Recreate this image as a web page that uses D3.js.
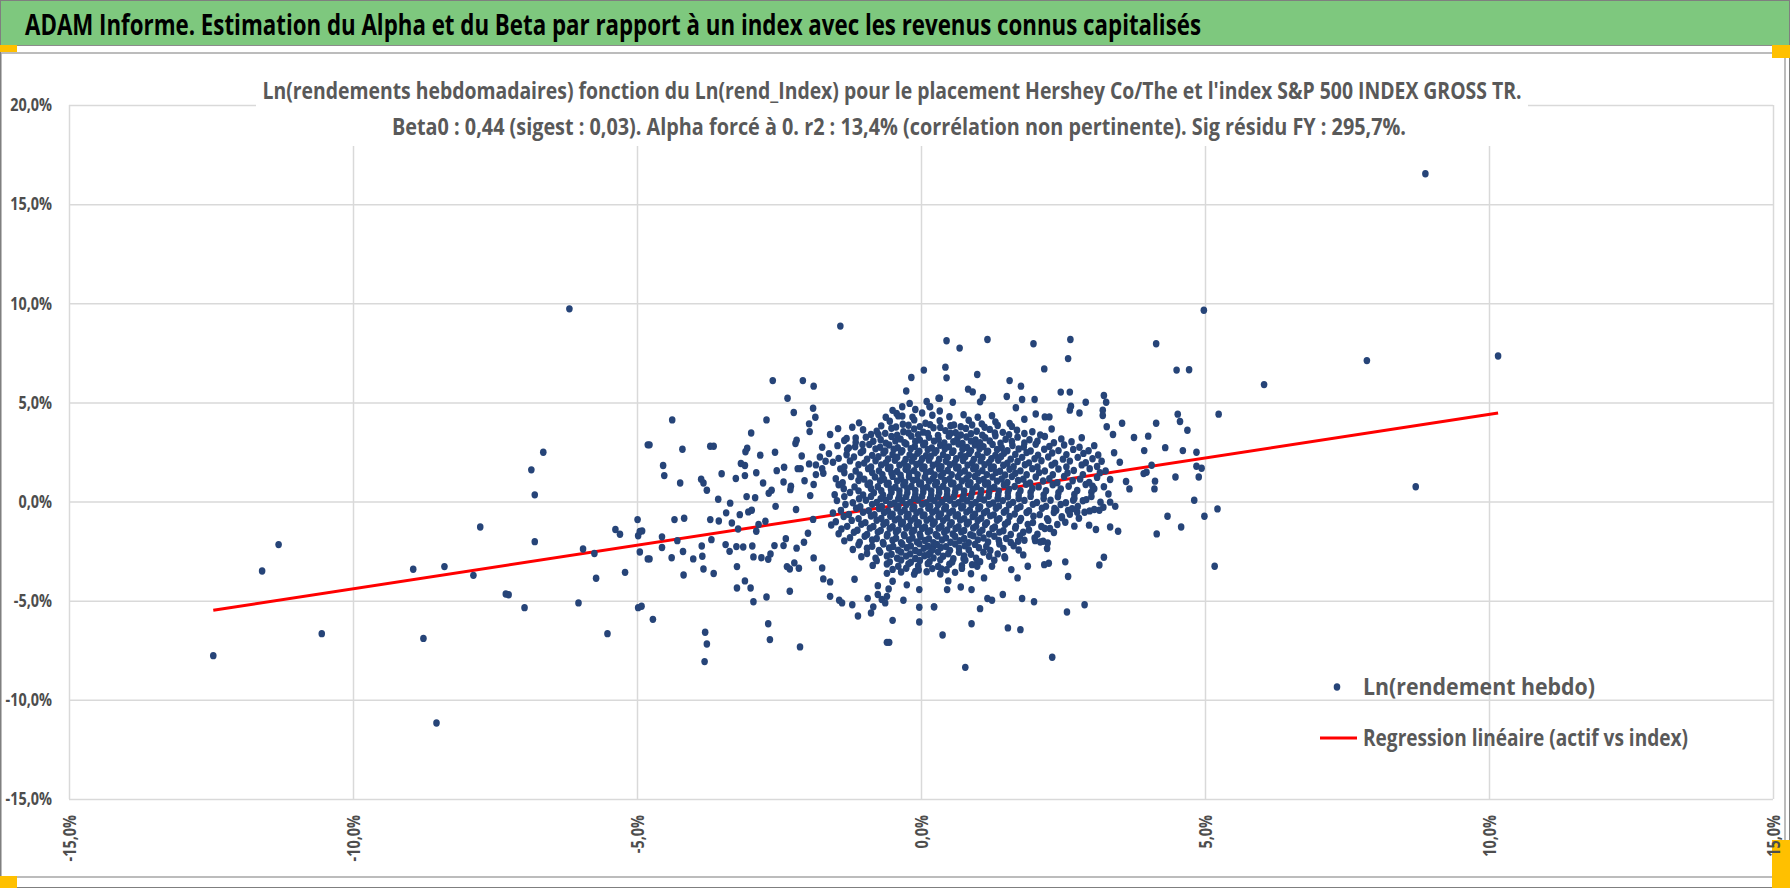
<!DOCTYPE html>
<html>
<head>
<meta charset="utf-8">
<script src="https://cdn.jsdelivr.net/npm/d3@7"></script>
<style>
  html, body { margin: 0; padding: 0; background: #ffffff; }
  svg { display: block; }
</style>
</head>
<body>
<svg id="chart" width="1790" height="888"></svg>
<script>
// Ln(weekly returns) of the asset vs Ln(weekly returns) of the index, in %
// [index %, asset %] pairs

const titleText = 'ADAM Informe. Estimation du Alpha et du Beta par rapport à un index avec les revenus connus capitalisés';
const subtitleLines = [
    "Ln(rendements hebdomadaires) fonction du Ln(rend_Index) pour le placement Hershey Co/The et l'index S&P 500 INDEX GROSS TR.",
    'Beta0 : 0,44 (sigest : 0,03).  Alpha forcé à 0. r2 : 13,4% (corrélation non pertinente). Sig résidu FY : 295,7%.'
];
const legendLabels = ['Ln(rendement hebdo)', 'Regression linéaire (actif vs index)'];

const beta0 = 0.44;
const xTicks = [-15, -10, -5, 0, 5, 10, 15];
const yTicks = [-15, -10, -5, 0, 5, 10, 15, 20];

const farPoints = [
    [-12.46, -7.77], [-11.6, -3.5], [-11.31, -2.17], [-10.55, -6.66], [-8.94, -3.41], [-8.76, -6.9],
    [-8.53, -11.17], [-8.39, -3.28], [-7.88, -3.72], [-7.76, -1.28], [-7.31, -4.66], [-7.26, -4.7],
    [-6.98, -5.35], [-6.86, 1.6], [-6.8, 0.34], [-6.8, -2.02], [-6.65, 2.49], [-6.19, 9.72],
    [-6.03, -5.11], [-5.95, -2.39], [-5.75, -2.62], [-5.72, -3.87], [-5.52, -6.66], [-5.38, -1.41],
    [-5.3, -1.65], [-5.21, -3.57], [-4.99, -0.91], [-4.91, -1.48], [-4.98, -1.72], [-4.95, -2.54],
    [-4.98, -5.35], [-4.81, 2.86], [-4.81, -2.89],
    [6.04, 5.9], [7.85, 7.11], [8.71, 0.75], [8.88, 16.53], [10.16, 7.34]
];

const leftCluster = [
    [-1.42, 8.85], [-2.61, 6.1], [-2.08, 6.1], [-1.89, 5.82], [-2.35, 5.21], [-1.9, 4.71], [-2.24, 4.49],
    [-1.86, 4.25], [-4.38, 4.12], [-2.72, 4.12], [-1.97, 3.92], [-1.96, 3.53], [-2.99, 3.46], [-4.78, 2.86],
    [-4.2, 2.64], [-3.71, 2.79], [-3.65, 2.79], [-2.21, 2.93], [-2.19, 3.09], [-3.06, 2.69], [-3.09, 2.51],
    [-2.57, 2.49], [-2.83, 2.34], [-4.54, 1.82], [-4.52, 1.31], [-4.24, 0.94], [-3.87, 1.13], [-3.83, 0.94],
    [-3.77, 0.57], [-3.51, 1.4], [-3.26, 1.16], [-3.17, 1.92], [-3.1, 1.82], [-3.1, 1.31], [-2.9, 1.45],
    [-2.78, 0.94], [-2.54, 1.56], [-2.41, 1.73], [-2.42, 0.99], [-2.17, 1.66], [-2.12, 1.66], [-2.29, 0.77],
    [-1.97, 1.9], [-1.89, 0.86], [-3.57, 0.12], [-3.36, -0.08], [-3.07, 0.25], [-2.92, 0.19], [-2.68, 0.42],
    [-2.63, 0.57], [-2.56, -0.24], [-4.34, -0.91], [-4.17, -0.84], [-3.71, -0.91], [-3.56, -0.98],
    [-3.43, -0.57], [-3.33, -1.08], [-3.19, -0.66], [-3.22, -1.38], [-3.04, -0.52], [-2.98, -0.44],
    [-2.86, -1.16], [-2.9, -1.5], [-2.74, -0.99], [-4.56, -1.78], [-4.56, -2.32], [-4.39, -2.83],
    [-4.29, -1.97], [-4.19, -2.52], [-4.01, -2.89], [-3.86, -2.24], [-3.85, -2.76], [-3.83, -3.4],
    [-3.69, -1.92], [-3.65, -3.63], [-4.18, -3.7], [-4.78, -2.89], [-4.95, -1.51], [-4.92, -5.28],
    [-4.72, -5.94], [-3.44, -2.17], [-3.37, -2.51], [-3.25, -2.27], [-3.13, -2.29], [-2.97, -2.24],
    [-2.95, -2.79], [-2.81, -2.83], [-2.69, -2.91], [-2.65, -2.64], [-2.58, -2.22], [-3.24, -3.28],
    [-3.24, -4.36], [-3.1, -4.0], [-3.0, -4.36], [-2.95, -5.05], [-2.72, -4.81], [-2.69, -6.16],
    [-2.66, -6.96], [-3.8, -6.59], [-3.77, -7.18], [-3.81, -8.07], [-2.36, -3.28], [-2.31, -3.4],
    [-2.23, -3.09], [-2.15, -3.36], [-2.31, -4.52], [-2.13, -7.33], [-2.42, -2.22], [-2.38, -1.87],
    [-2.19, -2.35], [-2.06, -2.05], [-1.99, -1.6], [-1.89, -2.84], [-1.74, -3.35], [-1.72, -3.9],
    [-1.6, -4.05], [-1.6, -4.78], [-1.44, -4.98], [-1.39, -5.11], [-1.21, -5.2], [-1.11, -5.77],
    [-1.17, -3.92], [-0.94, -4.88], [-0.88, -5.62], [-0.84, -5.31], [-0.76, -4.24], [-0.76, -4.69],
    [-0.69, -4.94], [-0.63, -5.11], [-0.6, -4.78], [-0.57, -4.41], [-0.5, -4.02], [-0.5, -5.99],
    [-0.6, -7.1], [-0.56, -7.1], [-0.31, -4.98], [-0.25, -4.2], [-0.1, -3.53], [-0.03, -4.44],
    [-0.03, -5.33], [-0.03, -6.07], [0.23, -5.31], [-1.74, 2.74], [-1.78, 2.25], [-1.68, 2.03],
    [-1.74, 1.66], [-1.72, 1.43], [-1.85, 1.36], [-1.6, 3.38], [-1.46, 3.68], [-1.21, 3.75], [-1.09, 3.97],
    [-1.35, 3.08], [-1.27, 2.71], [-1.15, 3.21], [-1.03, 2.88], [-0.75, 3.38], [-0.62, 4.25],
    [-0.26, 5.58], [-0.17, 6.26], [0.05, 6.63], [-0.33, 4.78], [-0.33, 4.31], [-0.43, 4.44],
    [-0.1, 4.64], [0.02, 4.47], [0.15, 4.79], [0.31, 5.21], [-0.2, 4.95], [0.1, 5.05], [-0.5, 4.6],
    [-2.05, 1.05], [-1.95, 0.3], [-2.2, -0.4], [-1.9, -0.9], [-2.3, 0.6], [-1.85, 1.85], [-2.1, 2.3]
];

const rightCluster = [
    [0.45, 8.11], [0.68, 7.74], [1.17, 8.17], [1.98, 7.96], [2.63, 8.17], [2.59, 7.21], [2.17, 6.69],
    [4.14, 7.96], [4.5, 6.63], [4.98, 9.65], [4.72, 6.65], [0.43, 6.78], [0.45, 6.24], [0.99, 6.41],
    [1.56, 6.1], [0.83, 5.67], [0.91, 5.53], [1.76, 5.82], [1.51, 5.3], [1.09, 5.25], [1.04, 5.03],
    [1.78, 5.15], [2.0, 5.15], [1.67, 4.73], [0.33, 5.21], [0.56, 5.01], [0.16, 4.78], [0.33, 4.57],
    [2.46, 5.52], [2.62, 5.52], [3.22, 5.35], [3.26, 5.01], [2.9, 5.01], [2.64, 4.81], [2.62, 4.61],
    [2.79, 4.47], [3.2, 4.61], [3.2, 4.34], [2.02, 4.42], [2.18, 4.27], [2.26, 4.27], [3.54, 3.95],
    [4.14, 3.95], [4.52, 4.41], [4.56, 4.04], [4.69, 3.6], [5.24, 4.41], [3.75, 3.23], [4.0, 3.3],
    [4.3, 2.72], [4.61, 2.57], [4.85, 2.49], [3.93, 2.57], [4.06, 1.83], [3.92, 1.41], [3.97, 1.48],
    [4.85, 1.78], [4.94, 1.68], [4.89, 1.24], [4.48, 1.24], [4.12, 1.03], [4.11, 0.64], [3.61, 1.01],
    [3.67, 0.64], [3.5, 1.98], [3.4, 2.46], [3.38, 3.38], [3.27, 3.77], [3.33, 1.11], [3.42, -0.24],
    [3.33, -0.03], [3.47, -1.5], [3.33, -1.28], [3.21, -0.29], [3.14, -0.44], [3.05, -0.4], [3.08, -1.41],
    [2.96, -1.19], [2.88, -0.54], [2.75, -0.54], [2.59, -0.45], [2.48, -0.82], [2.68, 0.07], [2.91, 0.1],
    [3.02, 0.77], [4.34, -0.74], [4.81, 0.07], [5.22, -0.37], [4.99, -0.74], [4.58, -1.28], [4.15, -1.63],
    [5.17, -3.26], [3.22, -2.81], [3.14, -3.2], [2.54, -3.04], [2.59, -3.78], [2.88, -5.2], [2.57, -5.57],
    [2.31, -7.85], [2.22, -2.37], [2.23, -2.09], [2.15, -2.0], [2.01, -1.97], [2.17, -3.18], [2.25, -3.11],
    [2.27, -1.36], [2.35, -0.35], [1.88, -3.26], [1.8, -2.69], [1.7, -3.85], [1.78, -4.89], [1.99, -5.05],
    [1.44, -4.69], [1.25, -4.98], [1.17, -4.89], [1.04, -5.4], [0.89, -6.16], [1.53, -6.37], [1.75, -6.46],
    [0.38, -6.73], [0.78, -8.36], [0.23, -5.31], [0.46, -4.44], [0.48, -4.0], [0.7, -4.31], [0.89, -4.44],
    [1.11, -3.85], [0.36, -3.4], [0.9, -3.18], [0.99, -3.26], [0.75, -2.88], [1.29, -2.96], [1.47, -2.78],
    [1.59, -3.43], [1.71, -2.0], [0.16, -2.59], [0.22, -2.25]
];

const corePoints = [
    [-0.55, 4.05], [-0.32, 3.9], [-0.12, 4.12], [0.08, 3.95], [0.33, 4.08], [0.58, 3.86], [0.84, 4.1],
    [1.07, 3.92], [1.31, 4.02], [1.56, 3.94], [1.82, 4.15],
    [-1.02, 3.62], [-0.78, 3.55], [-0.52, 3.7], [-0.31, 3.52], [-0.12, 3.66], [0.04, 3.5], [0.22, 3.72],
    [0.43, 3.58], [0.61, 3.47], [0.79, 3.69], [0.98, 3.55], [1.21, 3.64], [1.44, 3.49], [1.69, 3.6],
    [1.96, 3.52], [2.3, 3.66],
    [-1.31, 3.18], [-0.97, 3.25], [-0.71, 3.12], [-0.52, 3.28], [-0.36, 3.15], [-0.17, 3.3], [-0.02, 3.1],
    [0.14, 3.24], [0.31, 3.14], [0.49, 3.3], [0.64, 3.16], [0.8, 3.26], [0.96, 3.11], [1.13, 3.22],
    [1.31, 3.32], [1.49, 3.14], [1.7, 3.25], [1.91, 3.12], [2.18, 3.28], [2.47, 3.16], [2.83, 3.22],
    [-1.47, 2.82], [-1.16, 2.76], [-0.91, 2.88], [-0.72, 2.74], [-0.56, 2.85], [-0.41, 2.72], [-0.26, 2.9],
    [-0.11, 2.78], [0.04, 2.86], [0.19, 2.71], [0.34, 2.84], [0.49, 2.76], [0.66, 2.9], [0.81, 2.73],
    [0.95, 2.85], [1.1, 2.77], [1.26, 2.88], [1.42, 2.72], [1.61, 2.83], [1.81, 2.75], [2.02, 2.89],
    [2.26, 2.78], [2.52, 2.85], [2.79, 2.74], [3.05, 2.82],
    [-1.62, 2.42], [-1.31, 2.36], [-1.06, 2.47], [-0.86, 2.33], [-0.66, 2.45], [-0.5, 2.38], [-0.35, 2.5],
    [-0.2, 2.35], [-0.06, 2.44], [0.09, 2.31], [0.24, 2.46], [0.39, 2.37], [0.55, 2.48], [0.7, 2.34],
    [0.85, 2.43], [1.0, 2.36], [1.16, 2.49], [1.31, 2.33], [1.46, 2.44], [1.66, 2.38], [1.86, 2.47],
    [2.06, 2.34], [2.31, 2.45], [2.56, 2.37], [2.86, 2.43], [3.12, 2.35],
    [-1.55, 1.98], [-1.25, 2.05], [-1.0, 1.94], [-0.8, 2.06], [-0.62, 1.95], [-0.46, 2.08], [-0.3, 1.93],
    [-0.16, 2.04], [-0.01, 1.96], [0.14, 2.09], [0.29, 1.92], [0.44, 2.03], [0.59, 1.95], [0.74, 2.07],
    [0.9, 1.94], [1.05, 2.05], [1.2, 1.97], [1.36, 2.08], [1.52, 1.93], [1.7, 2.02], [1.9, 1.95],
    [2.12, 2.06], [2.36, 1.94], [2.62, 2.04], [2.9, 1.96], [3.18, 2.03],
    [-1.42, 1.65], [-1.15, 1.54], [-0.93, 1.66], [-0.74, 1.55], [-0.58, 1.67], [-0.42, 1.52],
    [-0.27, 1.63], [-0.12, 1.56], [0.02, 1.68], [0.17, 1.53], [0.32, 1.64], [0.47, 1.57], [0.62, 1.69],
    [0.77, 1.54], [0.92, 1.65], [1.08, 1.56], [1.23, 1.67], [1.39, 1.53], [1.56, 1.63], [1.75, 1.55],
    [1.96, 1.66], [2.18, 1.54], [2.42, 1.64], [2.69, 1.57], [2.97, 1.66], [3.25, 1.55],
    [-1.5, 1.15], [-1.23, 1.26], [-1.0, 1.13], [-0.81, 1.24], [-0.65, 1.12], [-0.5, 1.27],
    [-0.35, 1.14], [-0.21, 1.25], [-0.07, 1.11], [0.07, 1.23], [0.21, 1.16], [0.35, 1.28], [0.5, 1.13],
    [0.65, 1.25], [0.8, 1.15], [0.95, 1.27], [1.1, 1.12], [1.26, 1.24], [1.42, 1.14], [1.6, 1.26],
    [1.8, 1.13], [2.02, 1.24], [2.26, 1.15], [2.52, 1.27], [2.8, 1.13], [3.1, 1.22],
    [-1.45, 0.85], [-1.17, 0.74], [-0.94, 0.86], [-0.76, 0.75], [-0.6, 0.87], [-0.45, 0.72],
    [-0.31, 0.84], [-0.17, 0.76], [-0.03, 0.88], [0.11, 0.73], [0.25, 0.85], [0.39, 0.77], [0.53, 0.89],
    [0.68, 0.74], [0.83, 0.86], [0.98, 0.75], [1.13, 0.87], [1.29, 0.73], [1.46, 0.84], [1.65, 0.76],
    [1.85, 0.87], [2.07, 0.74], [2.32, 0.85], [2.6, 0.77], [2.9, 0.86], [3.22, 0.75],
    [-1.52, 0.35], [-1.25, 0.46], [-1.02, 0.33], [-0.83, 0.45], [-0.67, 0.34], [-0.52, 0.47],
    [-0.38, 0.32], [-0.24, 0.44], [-0.1, 0.36], [0.04, 0.48], [0.18, 0.33], [0.32, 0.45], [0.46, 0.35],
    [0.6, 0.47], [0.75, 0.32], [0.9, 0.44], [1.05, 0.36], [1.2, 0.48], [1.36, 0.33], [1.53, 0.45],
    [1.72, 0.35], [1.93, 0.46], [2.16, 0.34], [2.42, 0.45], [2.7, 0.36], [3.0, 0.47], [3.3, 0.38],
    [-1.48, 0.05], [-1.2, -0.06], [-0.97, 0.07], [-0.78, -0.05], [-0.62, 0.06], [-0.47, -0.08],
    [-0.33, 0.04], [-0.19, -0.04], [-0.05, 0.08], [0.09, -0.07], [0.23, 0.05], [0.37, -0.03], [0.51, 0.07],
    [0.66, -0.06], [0.81, 0.04], [0.96, -0.05], [1.11, 0.08], [1.27, -0.07], [1.44, 0.05], [1.62, -0.04],
    [1.82, 0.06], [2.04, -0.05], [2.28, 0.07], [2.55, -0.06], [2.85, 0.04], [3.16, -0.03],
    [-1.41, -0.45], [-1.14, -0.34], [-0.92, -0.46], [-0.74, -0.35], [-0.58, -0.47], [-0.43, -0.33],
    [-0.29, -0.44], [-0.15, -0.36], [-0.01, -0.48], [0.13, -0.34], [0.27, -0.45], [0.41, -0.37], [0.56, -0.47],
    [0.71, -0.33], [0.86, -0.44], [1.01, -0.36], [1.16, -0.48], [1.32, -0.34], [1.5, -0.45], [1.69, -0.35],
    [1.9, -0.46], [2.13, -0.34], [2.38, -0.44], [2.66, -0.36], [2.97, -0.47],
    [-1.36, -0.75], [-1.1, -0.86], [-0.88, -0.73], [-0.7, -0.85], [-0.54, -0.74], [-0.39, -0.87],
    [-0.25, -0.76], [-0.11, -0.84], [0.03, -0.72], [0.17, -0.86], [0.31, -0.75], [0.46, -0.83], [0.61, -0.73],
    [0.76, -0.87], [0.91, -0.76], [1.06, -0.84], [1.22, -0.72], [1.38, -0.86], [1.56, -0.75], [1.76, -0.85],
    [1.98, -0.74], [2.22, -0.86], [2.48, -0.76], [2.78, -0.84],
    [-1.58, -1.18], [-1.3, -1.25], [-1.05, -1.14], [-0.84, -1.26], [-0.66, -1.15], [-0.5, -1.27], [-0.35, -1.13],
    [-0.21, -1.24], [-0.07, -1.16], [0.07, -1.28], [0.21, -1.14], [0.36, -1.25], [0.51, -1.17], [0.66, -1.27],
    [0.81, -1.13], [0.97, -1.24], [1.13, -1.16], [1.3, -1.28], [1.48, -1.14], [1.67, -1.25], [1.88, -1.15],
    [2.12, -1.26], [2.4, -1.16], [2.7, -1.24],
    [-1.45, -1.62], [-1.18, -1.55], [-0.95, -1.66], [-0.76, -1.54], [-0.59, -1.65], [-0.44, -1.53], [-0.3, -1.67],
    [-0.16, -1.56], [-0.02, -1.64], [0.12, -1.52], [0.26, -1.66], [0.41, -1.55], [0.56, -1.63], [0.71, -1.53],
    [0.87, -1.67], [1.03, -1.56], [1.2, -1.64], [1.38, -1.54], [1.58, -1.66], [1.8, -1.55], [2.05, -1.65],
    [2.34, -1.56],
    [-1.35, -1.98], [-1.08, -2.05], [-0.86, -1.94], [-0.67, -2.06], [-0.5, -1.95], [-0.35, -2.07], [-0.21, -1.93],
    [-0.07, -2.04], [0.07, -1.96], [0.22, -2.08], [0.37, -1.94], [0.52, -2.05], [0.68, -1.97], [0.84, -2.07],
    [1.0, -1.93], [1.18, -2.04], [1.37, -1.96], [1.58, -2.06], [1.82, -1.95], [2.1, -2.04],
    [-1.2, -2.42], [-0.95, -2.35], [-0.74, -2.46], [-0.56, -2.34], [-0.4, -2.45], [-0.25, -2.33], [-0.1, -2.47],
    [0.05, -2.36], [0.2, -2.44], [0.35, -2.32], [0.51, -2.46], [0.67, -2.35], [0.84, -2.43], [1.02, -2.33],
    [1.22, -2.47], [1.45, -2.36], [1.72, -2.44],
    [-1.05, -2.78], [-0.8, -2.85], [-0.6, -2.74], [-0.42, -2.86], [-0.26, -2.75], [-0.1, -2.87], [0.06, -2.73],
    [0.22, -2.84], [0.39, -2.76], [0.57, -2.88], [0.76, -2.74], [0.97, -2.85], [1.2, -2.76], [1.48, -2.84],
    [-0.85, -3.22], [-0.6, -3.15], [-0.4, -3.26], [-0.22, -3.14], [-0.05, -3.25], [0.12, -3.13], [0.3, -3.27],
    [0.5, -3.16], [0.72, -3.24], [0.98, -3.14], [1.25, -3.26],
    [-0.6, -3.62], [-0.35, -3.55], [-0.12, -3.66], [0.1, -3.54], [0.34, -3.65], [0.6, -3.57], [0.88, -3.64]
];

// second layer of the dense core, between the rows above
const coreFill = [
    [-0.4, 4.32], [-0.15, 4.26], [0.2, 4.35], [0.5, 4.28], [0.75, 4.38], [1.0, 4.25], [1.25, 4.33],
    [-0.7, 3.82], [-0.44, 3.76], [-0.22, 3.85], [-0.02, 3.78], [0.16, 3.88], [0.34, 3.74], [0.52, 3.83],
    [0.7, 3.77], [0.9, 3.86], [1.12, 3.75], [1.35, 3.84], [1.6, 3.79],
    [-0.88, 3.38], [-0.63, 3.44], [-0.42, 3.35], [-0.22, 3.46], [-0.05, 3.37], [0.12, 3.43], [0.3, 3.34],
    [0.52, 3.45], [0.7, 3.36], [0.88, 3.42], [1.08, 3.35], [1.3, 3.46], [1.55, 3.37], [1.82, 3.43], [2.1, 3.36],
    [-1.15, 2.98], [-0.84, 3.04], [-0.62, 2.95], [-0.45, 3.06], [-0.29, 2.97], [-0.1, 3.03], [0.07, 2.94],
    [0.23, 3.05], [0.41, 2.96], [0.57, 3.02], [0.73, 2.93], [0.88, 3.05], [1.04, 2.97], [1.21, 3.06],
    [1.4, 2.95], [1.6, 3.03], [1.82, 2.96], [2.05, 3.04], [2.34, 2.97], [2.65, 3.02],
    [-1.3, 2.62], [-1.02, 2.56], [-0.8, 2.66], [-0.63, 2.55], [-0.48, 2.64], [-0.33, 2.57], [-0.18, 2.67],
    [-0.03, 2.54], [0.12, 2.63], [0.27, 2.56], [0.42, 2.66], [0.57, 2.55], [0.73, 2.64], [0.88, 2.57],
    [1.03, 2.67], [1.18, 2.54], [1.34, 2.63], [1.52, 2.56], [1.72, 2.65], [1.93, 2.55], [2.17, 2.64],
    [2.42, 2.57], [2.68, 2.63], [2.95, 2.56],
    [-1.45, 2.18], [-1.18, 2.25], [-0.95, 2.14], [-0.75, 2.26], [-0.58, 2.15], [-0.42, 2.24], [-0.27, 2.13],
    [-0.12, 2.25], [0.02, 2.16], [0.17, 2.27], [0.32, 2.14], [0.47, 2.23], [0.62, 2.16], [0.78, 2.26],
    [0.93, 2.13], [1.08, 2.24], [1.24, 2.16], [1.41, 2.27], [1.58, 2.14], [1.78, 2.23], [2.0, 2.16],
    [2.24, 2.25], [2.5, 2.14], [2.76, 2.23], [3.02, 2.16],
    [-1.35, 1.75], [-1.1, 1.86], [-0.88, 1.74], [-0.7, 1.85], [-0.54, 1.73], [-0.38, 1.84],
    [-0.23, 1.76], [-0.08, 1.87], [0.06, 1.74], [0.21, 1.83], [0.36, 1.76], [0.51, 1.86], [0.66, 1.73],
    [0.82, 1.84], [0.97, 1.75], [1.12, 1.86], [1.28, 1.74], [1.45, 1.83], [1.63, 1.76], [1.83, 1.86],
    [2.05, 1.74], [2.3, 1.84], [2.56, 1.75], [2.83, 1.85], [3.1, 1.77],
    [-1.35, 1.45], [-1.08, 1.34], [-0.86, 1.46], [-0.68, 1.35], [-0.52, 1.44], [-0.36, 1.33],
    [-0.21, 1.45], [-0.06, 1.36], [0.09, 1.47], [0.24, 1.34], [0.39, 1.43], [0.54, 1.36], [0.69, 1.46],
    [0.84, 1.33], [1.0, 1.44], [1.16, 1.36], [1.32, 1.47], [1.48, 1.34], [1.66, 1.43], [1.86, 1.35],
    [2.08, 1.46], [2.32, 1.35], [2.58, 1.44], [2.85, 1.36], [3.15, 1.45],
    [-1.38, 0.95], [-1.1, 1.06], [-0.9, 0.94], [-0.72, 1.05], [-0.57, 0.93], [-0.42, 1.04],
    [-0.28, 0.96], [-0.14, 1.07], [0.0, 0.94], [0.14, 1.03], [0.28, 0.96], [0.42, 1.06], [0.57, 0.93],
    [0.72, 1.04], [0.87, 0.95], [1.02, 1.06], [1.18, 0.94], [1.34, 1.03], [1.52, 0.96], [1.71, 1.06],
    [1.92, 0.94], [2.15, 1.04], [2.4, 0.95], [2.67, 1.05], [2.96, 0.97],
    [-1.36, 0.65], [-1.1, 0.54], [-0.88, 0.66], [-0.7, 0.55], [-0.53, 0.64], [-0.38, 0.53],
    [-0.24, 0.65], [-0.1, 0.56], [0.04, 0.67], [0.18, 0.54], [0.32, 0.63], [0.46, 0.56], [0.61, 0.66],
    [0.76, 0.53], [0.91, 0.64], [1.06, 0.56], [1.21, 0.67], [1.37, 0.54], [1.55, 0.63], [1.75, 0.55],
    [1.96, 0.66], [2.2, 0.55], [2.46, 0.64], [2.75, 0.56], [3.05, 0.65],
    [-1.35, 0.25], [-1.09, 0.14], [-0.88, 0.26], [-0.71, 0.15], [-0.55, 0.24], [-0.4, 0.13],
    [-0.26, 0.25], [-0.12, 0.16], [0.02, 0.27], [0.16, 0.14], [0.3, 0.23], [0.44, 0.16], [0.58, 0.26],
    [0.73, 0.13], [0.88, 0.24], [1.03, 0.16], [1.19, 0.27], [1.35, 0.14], [1.53, 0.23], [1.72, 0.15],
    [1.93, 0.26], [2.16, 0.15], [2.41, 0.24], [2.7, 0.16], [3.0, 0.25],
    [-1.33, -0.15], [-1.07, -0.26], [-0.86, -0.14], [-0.69, -0.25], [-0.54, -0.13],
    [-0.4, -0.24], [-0.26, -0.16], [-0.12, -0.27], [0.02, -0.14], [0.16, -0.23], [0.3, -0.16], [0.44, -0.26],
    [0.59, -0.13], [0.74, -0.24], [0.89, -0.15], [1.04, -0.26], [1.2, -0.14], [1.37, -0.23], [1.55, -0.16],
    [1.75, -0.26], [1.97, -0.14], [2.2, -0.24], [2.46, -0.15], [2.76, -0.25],
    [-1.55, -0.58], [-1.27, -0.65], [-1.02, -0.54], [-0.82, -0.66], [-0.65, -0.55], [-0.5, -0.64],
    [-0.36, -0.53], [-0.22, -0.65], [-0.08, -0.56], [0.06, -0.67], [0.2, -0.54], [0.35, -0.63], [0.5, -0.56],
    [0.65, -0.66], [0.8, -0.53], [0.95, -0.64], [1.11, -0.56], [1.28, -0.67], [1.46, -0.54], [1.65, -0.63],
    [1.86, -0.55], [2.09, -0.66], [2.34, -0.55], [2.62, -0.64],
    [-1.5, -1.02], [-1.22, -0.95], [-0.98, -1.06], [-0.78, -0.94], [-0.61, -1.05], [-0.46, -0.93],
    [-0.32, -1.04], [-0.18, -0.96], [-0.04, -1.07], [0.1, -0.94], [0.24, -1.03], [0.39, -0.96], [0.54, -1.06],
    [0.69, -0.93], [0.84, -1.04], [1.0, -0.95], [1.16, -1.06], [1.34, -0.94], [1.53, -1.03], [1.74, -0.96],
    [1.97, -1.06], [2.24, -0.95], [2.54, -1.04],
    [-1.4, -1.38], [-1.12, -1.45], [-0.9, -1.34], [-0.71, -1.46], [-0.55, -1.35], [-0.4, -1.44],
    [-0.26, -1.33], [-0.12, -1.45], [0.02, -1.36], [0.16, -1.47], [0.31, -1.34], [0.46, -1.43], [0.61, -1.36],
    [0.76, -1.46], [0.92, -1.33], [1.08, -1.44], [1.26, -1.36], [1.45, -1.47], [1.66, -1.34], [1.9, -1.43],
    [2.18, -1.36],
    [-1.25, -1.82], [-0.99, -1.75], [-0.78, -1.86], [-0.6, -1.74], [-0.44, -1.85], [-0.29, -1.73],
    [-0.15, -1.84], [-0.01, -1.76], [0.14, -1.87], [0.29, -1.74], [0.44, -1.83], [0.6, -1.76], [0.76, -1.86],
    [0.92, -1.73], [1.1, -1.84], [1.29, -1.75], [1.5, -1.86], [1.74, -1.74], [2.0, -1.84],
    [-1.1, -2.18], [-0.86, -2.25], [-0.66, -2.14], [-0.49, -2.26], [-0.33, -2.15], [-0.18, -2.24],
    [-0.03, -2.13], [0.12, -2.25], [0.28, -2.16], [0.44, -2.27], [0.6, -2.14], [0.77, -2.23], [0.95, -2.16],
    [1.15, -2.26], [1.38, -2.14], [1.63, -2.23],
    [-0.95, -2.62], [-0.72, -2.56], [-0.52, -2.66], [-0.35, -2.55], [-0.19, -2.64], [-0.03, -2.57],
    [0.13, -2.67], [0.3, -2.54], [0.48, -2.63], [0.67, -2.56], [0.88, -2.66], [1.1, -2.55], [1.35, -2.64],
    [-0.78, -2.98], [-0.55, -3.04], [-0.35, -2.95], [-0.18, -3.06], [-0.02, -2.97], [0.15, -3.03],
    [0.34, -2.94], [0.55, -3.05], [0.78, -2.96], [1.04, -3.03],
    [-0.5, -3.42], [-0.26, -3.36], [-0.04, -3.45], [0.2, -3.38], [0.45, -3.44], [0.72, -3.37]
];

const points = farPoints.concat(leftCluster, rightCluster, corePoints, coreFill);

const svg = d3.select('#chart');
const W = 1790, H = 888;

const plot = { left: 69, right: 1773, top: 105, bottom: 799 };

const x = d3.scaleLinear().domain([-15, 15]).range([plot.left, plot.right]);
const y = d3.scaleLinear().domain([-15, 20]).range([plot.bottom, plot.top]);

const frLocale = d3.formatLocale({ decimal: ',', thousands: ' ', grouping: [3], currency: ['', ' €'], minus: '-' });
const pct = v => frLocale.format('.1f')(v) + '%';

const labelFont = "'Open Sans', 'Liberation Sans', sans-serif";

// Background and frames
svg.append('rect').attr('width', W).attr('height', H).attr('fill', '#ffffff');

svg.append('rect')
    .attr('x', 0.5).attr('y', 0.5).attr('width', W - 1).attr('height', 45)
    .attr('fill', '#7ec87e').attr('stroke', '#8c8c8c');

svg.append('rect')
    .attr('x', 1).attr('y', 53).attr('width', 1784).attr('height', 824)
    .attr('fill', 'none').attr('stroke', '#a6a6a6').attr('stroke-width', 1.5);

svg.append('rect')
    .attr('x', 0.5).attr('y', 0.5).attr('width', W - 1).attr('height', H - 1)
    .attr('fill', 'none').attr('stroke', '#7f7f7f');

// Orange handles
[[0, 45, 17, 7], [1772, 45, 18, 13], [0, 876, 17, 12], [1772, 840, 18, 48]].forEach(r => {
    svg.append('rect').attr('x', r[0]).attr('y', r[1]).attr('width', r[2]).attr('height', r[3])
        .attr('fill', '#ffc000');
});

svg.append('text')
    .attr('x', 25).attr('y', 35)
    .attr('font-family', labelFont)
    .attr('font-weight', 'bold')
    .attr('font-size', 29)
    .attr('fill', '#000000')
    .attr('textLength', 1176)
    .attr('lengthAdjust', 'spacingAndGlyphs')
    .text(titleText);

// Gridlines + axes
const yAxis = svg.append('g')
    .attr('transform', `translate(${plot.left},0)`)
    .call(d3.axisLeft(y).tickValues(yTicks).tickSize(-(plot.right - plot.left)).tickPadding(17).tickFormat(pct));

const xAxis = svg.append('g')
    .attr('transform', `translate(0,${plot.bottom})`)
    .call(d3.axisBottom(x).tickValues(xTicks).tickSize(-(plot.bottom - plot.top)).tickFormat(pct));

[yAxis, xAxis].forEach(a => {
    a.select('.domain').remove();
    a.selectAll('.tick line').attr('stroke', '#d9d9d9').attr('stroke-width', 1.5);
    a.selectAll('.tick text')
        .attr('font-family', labelFont)
        .attr('font-weight', 'bold')
        .attr('font-size', 18)
        .attr('fill', '#4d4d4d')
        .attr('lengthAdjust', 'spacingAndGlyphs')
        .attr('textLength', function () { return this.getComputedTextLength() * 0.8; });
});

xAxis.selectAll('.tick text')
    .attr('transform', 'rotate(-90)')
    .attr('text-anchor', 'end')
    .attr('x', -16)
    .attr('y', 0)
    .attr('dy', '0.35em');

// Subtitle box hides the gridlines behind it
svg.append('rect')
    .attr('x', 256).attr('y', 60).attr('width', 1272).attr('height', 86)
    .attr('fill', '#ffffff');

const subWidths = [1259, 1014];
subtitleLines.forEach((line, i) => {
    svg.append('text')
        .attr('x', i === 0 ? 892 : 899)
        .attr('y', i === 0 ? 99 : 135)
        .attr('text-anchor', 'middle')
        .attr('font-family', labelFont)
        .attr('font-weight', 'bold')
        .attr('font-size', 24)
        .attr('fill', '#595959')
        .attr('textLength', subWidths[i])
        .attr('lengthAdjust', 'spacingAndGlyphs')
        .text(line);
});

// Regression line, alpha forced to 0
const xExtent = d3.extent(points, d => d[0]);
const line = d3.line().x(d => x(d)).y(d => y(beta0 * d));
svg.append('path')
    .attr('d', line(xExtent))
    .attr('fill', 'none')
    .attr('stroke', '#ff0000')
    .attr('stroke-width', 3);

// Scatter
svg.append('g')
    .selectAll('ellipse')
    .data(points)
    .enter()
    .append('ellipse')
    .attr('cx', d => x(d[0]))
    .attr('cy', d => y(d[1]))
    .attr('rx', 3.3)
    .attr('ry', 3.7)
    .attr('fill', '#264478');

// Legend
const legend = svg.append('g');
legend.append('ellipse')
    .attr('cx', 1337).attr('cy', 687).attr('rx', 3.3).attr('ry', 3.7)
    .attr('fill', '#264478');
legend.append('line')
    .attr('x1', 1320).attr('x2', 1357).attr('y1', 738).attr('y2', 738)
    .attr('stroke', '#ff0000').attr('stroke-width', 3);

const legendWidths = [232, 325];
legendLabels.forEach((label, i) => {
    legend.append('text')
        .attr('x', 1363)
        .attr('y', i === 0 ? 695 : 746)
        .attr('font-family', labelFont)
        .attr('font-weight', 'bold')
        .attr('font-size', 23)
        .attr('fill', '#595959')
        .attr('textLength', legendWidths[i])
        .attr('lengthAdjust', 'spacingAndGlyphs')
        .text(label);
});
</script>
</body>
</html>
